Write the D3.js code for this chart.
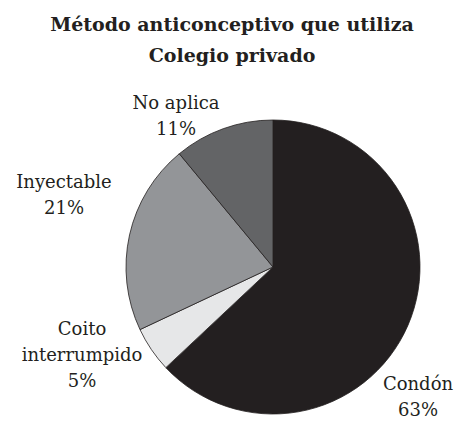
<!DOCTYPE html>
<html>
<head>
<meta charset="utf-8">
<script src="https://cdn.jsdelivr.net/npm/d3@7"></script>
<style>
    body { margin: 0; background: #fff; }
</style>
</head>
<body>
<div id="chart"></div>
<script>
// data
var metodos = ["Condón", "Coito interrumpido", "Inyectable", "No aplica"];
var porcentajes = [63, 5, 21, 11];
var colores = ["#231f20", "#e6e7e8", "#939598", "#636466"];
var titulo = ["Método anticonceptivo que utiliza", "Colegio privado"];

// label lines (split of category names) and nudges from the pie center
var labelLines = [["Condón"], ["Coito", "interrumpido"], ["Inyectable"], ["No aplica"]];
var labelOffsets = [[145, 123], [-191, 68], [-209, -79], [-97, -158]];

var fontFamily = "'DejaVu Serif', serif";

var width = 459,
    height = 422,
    cx = 273,
    cy = 267,
    radius = 147;

var svg = d3.select("#chart")
    .append("svg")
    .attr("width", width)
    .attr("height", height);

svg.selectAll(".title")
    .data(titulo)
    .enter().append("text")
    .attr("class", "title")
    .attr("x", 232)
    .attr("y", function(d, i) { return 31 + i * 31; })
    .attr("text-anchor", "middle")
    .attr("font-family", fontFamily)
    .attr("font-weight", "bold")
    .attr("font-size", 19)
    .attr("fill", "#231f20")
    .text(function(d) { return d; });

var data = metodos.map(function(m, i) {
    return { name: m, value: porcentajes[i], color: colores[i], lines: labelLines[i], off: labelOffsets[i] };
});

var pie = d3.pie()
    .sort(null)
    .value(function(d) { return d.value; });

var arc = d3.arc()
    .innerRadius(0)
    .outerRadius(radius);

var g = svg.append("g")
    .attr("transform", "translate(" + cx + "," + cy + ")");

g.selectAll("path")
    .data(pie(data))
    .enter().append("path")
    .attr("d", arc)
    .style("fill", function(d) { return d.data.color; })
    .style("stroke", "#231f20")
    .style("stroke-width", 0.8);

var labels = g.selectAll(".label")
    .data(pie(data))
    .enter().append("text")
    .attr("class", "label")
    .attr("text-anchor", "middle")
    .attr("font-family", fontFamily)
    .attr("font-size", 18)
    .attr("fill", "#231f20");

labels.each(function(d) {
    var t = d3.select(this);
    var lines = d.data.lines.concat([d.data.value + "%"]);
    lines.forEach(function(l, i) {
        t.append("tspan")
            .attr("x", d.data.off[0])
            .attr("y", d.data.off[1] + i * 26)
            .text(l);
    });
});
</script>
</body>
</html>
